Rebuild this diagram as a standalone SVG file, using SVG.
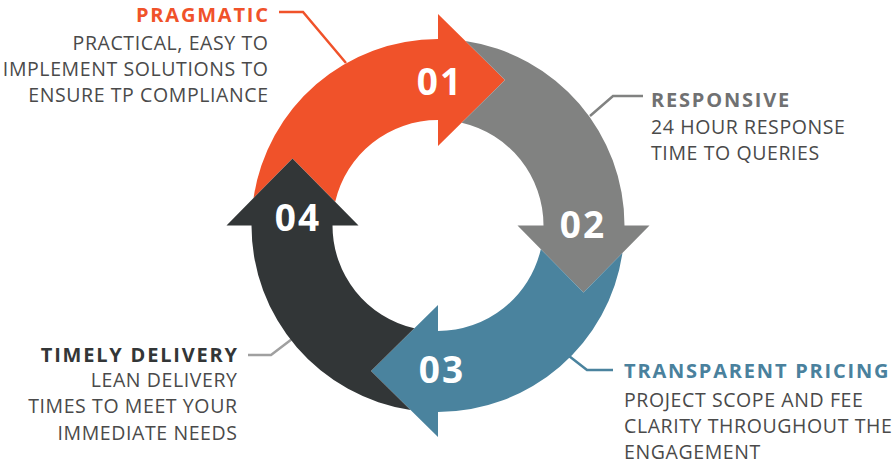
<svg xmlns="http://www.w3.org/2000/svg" width="896" height="466" viewBox="0 0 896 466">
<style>
.num{font-family:"Open Sans","Liberation Sans",sans-serif;font-weight:700;font-size:37px;letter-spacing:2px;fill:#fff;text-anchor:middle}
.hd{font-family:"Open Sans","Liberation Sans",sans-serif;font-weight:700;font-size:20px;letter-spacing:1.8px}
.bd{font-family:"Open Sans","Liberation Sans",sans-serif;font-size:19.5px;letter-spacing:0.6px;fill:#4a4a4a}
.r{text-anchor:end}
.conn{fill:none;stroke-width:2.5}
</style>
<defs>
<path id="seg" d="M253.53,198.06 A186.5,186.5 0 0 1 438,39 L438,14 L505,80 L438,146 L438,120 A105.5,105.5 0 0 0 335.19,201.84 L292.5,158.5 Z"/>
</defs>
<g id="connectors">
<polyline class="conn" stroke="#f0522a" points="279,12 303,12 346,63"/>
<polyline class="conn" stroke="#818281" points="643,96 613,96 590,116"/>
<polyline class="conn" stroke="#4a839e" points="613,370 587,370 569,356"/>
<polyline class="conn" stroke="#a0a0a0" points="248,355 271,355 292,339"/>
</g>
<g id="node1">
<use href="#seg" fill="#f0522a"/>
<text class="num" x="440" y="95">01</text>
</g>
<g id="node2">
<use href="#seg" fill="#818281" transform="rotate(90 438 225.5)"/>
<text class="num" x="583" y="238">02</text>
</g>
<g id="node3">
<use href="#seg" fill="#4a839e" transform="rotate(180 438 225.5)"/>
<text class="num" x="442" y="383">03</text>
</g>
<g id="node4">
<use href="#seg" fill="#323637" transform="rotate(270 438 225.5)"/>
<text class="num" x="298" y="231">04</text>
</g>
<g id="label1">
<text class="hd r" x="269.8" y="22" fill="#f0522a">PRAGMATIC</text>
<text class="bd r" x="268.6" y="50">PRACTICAL, EASY TO</text>
<text class="bd r" x="268.6" y="76">IMPLEMENT SOLUTIONS TO</text>
<text class="bd r" x="268.6" y="102">ENSURE TP COMPLIANCE</text>
</g>
<g id="label2">
<text class="hd" x="651" y="107" fill="#707172">RESPONSIVE</text>
<text class="bd" x="651" y="134">24 HOUR RESPONSE</text>
<text class="bd" x="651" y="160">TIME TO QUERIES</text>
</g>
<g id="label3">
<text class="hd" x="624" y="378" fill="#4a819d">TRANSPARENT PRICING</text>
<text class="bd" x="624" y="407">PROJECT SCOPE AND FEE</text>
<text class="bd" x="624" y="433">CLARITY THROUGHOUT THE</text>
<text class="bd" x="624" y="459">ENGAGEMENT</text>
</g>
<g id="label4">
<text class="hd r" x="238.8" y="362" fill="#333637">TIMELY DELIVERY</text>
<text class="bd r" x="237.6" y="387">LEAN DELIVERY</text>
<text class="bd r" x="237.6" y="413">TIMES TO MEET YOUR</text>
<text class="bd r" x="237.6" y="440">IMMEDIATE NEEDS</text>
</g>
</svg>
